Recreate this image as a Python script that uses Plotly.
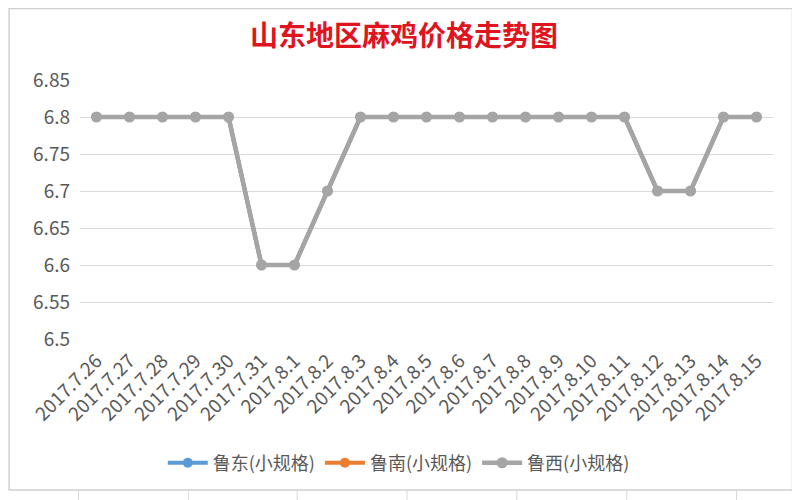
import plotly.graph_objects as go

dates = ["2017.7.26", "2017.7.27", "2017.7.28", "2017.7.29", "2017.7.30", "2017.7.31",
         "2017.8.1", "2017.8.2", "2017.8.3", "2017.8.4", "2017.8.5", "2017.8.6",
         "2017.8.7", "2017.8.8", "2017.8.9", "2017.8.10", "2017.8.11", "2017.8.12",
         "2017.8.13", "2017.8.14", "2017.8.15"]
ludong = [6.8, 6.8, 6.8, 6.8, 6.8, 6.6, 6.6, 6.7, 6.8, 6.8, 6.8, 6.8, 6.8, 6.8, 6.8,
          6.8, 6.8, 6.7, 6.7, 6.8, 6.8]
lunan = [6.8, 6.8, 6.8, 6.8, 6.8, 6.6, 6.6, 6.7, 6.8, 6.8, 6.8, 6.8, 6.8, 6.8, 6.8,
         6.8, 6.8, 6.7, 6.7, 6.8, 6.8]
luxi = [6.8, 6.8, 6.8, 6.8, 6.8, 6.6, 6.6, 6.7, 6.8, 6.8, 6.8, 6.8, 6.8, 6.8, 6.8,
        6.8, 6.8, 6.7, 6.7, 6.8, 6.8]
series_names = ["鲁东(小规格)", "鲁南(小规格)", "鲁西(小规格)"]
series_colors = ["#5B9BD5", "#ED7D31", "#A5A5A5"]
y_ticks = [6.5, 6.55, 6.6, 6.65, 6.7, 6.75, 6.8, 6.85]
y_tick_text = ["6.5", "6.55", "6.6", "6.65", "6.7", "6.75", "6.8", "6.85"]

FONT = "Noto Sans CJK SC, Microsoft YaHei, sans-serif"

# page is rendered with an 8px body margin, so the figure is laid out in
# coordinates shifted by 8px relative to the screenshot
W, H = 792, 492
L, R, T, B = 71.5, 26.5, 72, 161
PW, PH = W - L - R, H - T - B


def px(x):
    return (x - L) / PW


def py(y):
    return (H - B - y) / PH


fig = go.Figure()
for i, (name, vals, col) in enumerate(zip(series_names, [ludong, lunan, luxi], series_colors)):
    top = i == 2
    fig.add_trace(go.Scatter(
        x=dates, y=vals, name=name, mode="lines+markers",
        line=dict(color=col, width=4.5 if top else 4),
        marker=dict(color=col, size=11 if top else 10),
    ))

fig.update_layout(
    width=W, height=H,
    margin=dict(l=L, r=R, t=T, b=B, autoexpand=False),
    paper_bgcolor="white", plot_bgcolor="white",
    title=dict(text="<b>山东地区麻鸡价格走势图</b>", x=0.5, xanchor="center",
               xref="container", yref="container",
               y=1 - 28 / H, yanchor="middle",
               font=dict(family=FONT, size=28, color="#E0141E")),
    font=dict(family=FONT, color="#595959"),
    xaxis=dict(type="category", range=[-0.5, 20.5], tickangle=-45,
               showgrid=False, showline=False, ticks="", automargin=False,
               ticklabelstandoff=6,
               tickfont=dict(size=19, color="#595959", family=FONT)),
    yaxis=dict(range=[6.5, 6.85], tickvals=y_ticks, ticktext=y_tick_text,
               showgrid=True, gridcolor="#D9D9D9", gridwidth=1, automargin=False,
               zeroline=False, showline=False, ticks="", ticklabelstandoff=9,
               tickfont=dict(size=19, color="#595959", family=FONT)),
    legend=dict(orientation="h", x=0.46, xanchor="center", y=-0.479, yanchor="middle",
                font=dict(size=18, color="#595959", family=FONT),
                itemwidth=40, traceorder="normal"),
    showlegend=True,
)

# Excel sheet surroundings: chart border and sheet gridline stubs
fig.add_shape(type="rect", xref="paper", yref="paper",
              x0=px(0.5), x1=px(785), y0=py(482), y1=py(0.5),
              line=dict(color="#CFCFCF", width=1.5), layer="below")
for sx in [70, 180, 289, 399, 509, 619, 729]:
    fig.add_shape(type="line", xref="paper", yref="paper",
                  x0=px(sx), x1=px(sx), y0=py(482), y1=py(492),
                  line=dict(color="#D8D8D8", width=1))
for sy in [122, 179, 243, 282, 310, 340, 368, 410, 440, 470]:
    fig.add_shape(type="line", xref="paper", yref="paper",
                  x0=px(785), x1=px(792), y0=py(sy), y1=py(sy),
                  line=dict(color="#D8D8D8", width=1))

fig.write_html("out.html")
